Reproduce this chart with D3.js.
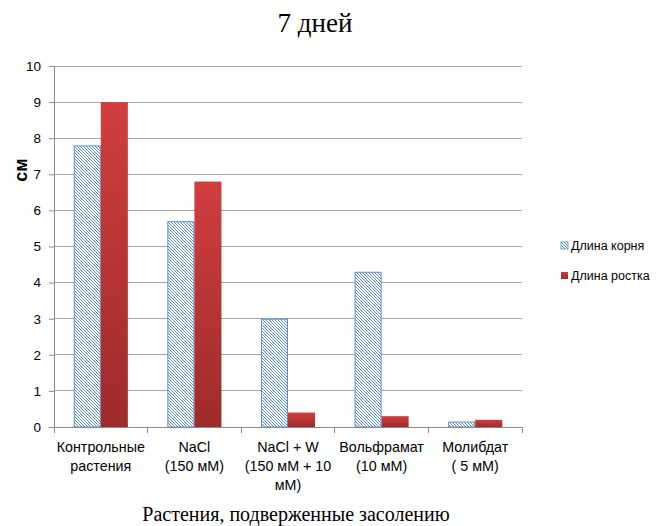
<!DOCTYPE html>
<html><head><meta charset="utf-8">
<script src="https://cdn.jsdelivr.net/npm/d3@7"></script>
<style>body{margin:0;background:#fff}</style>
</head><body>
<svg id="c" width="662" height="526"></svg>
<script>
const categories = [["Контрольные","растения"],["NaCl","(150 мМ)"],["NaCl + W","(150 мМ + 10","мМ)"],["Вольфрамат","(10 мМ)"],["Молибдат","( 5 мМ)"]];
const rootLen = [7.8, 5.7, 3.0, 4.3, 0.15];
const shootLen = [9.0, 6.8, 0.4, 0.3, 0.2];
const seriesNames = ["Длина корня", "Длина ростка"];
const yTicks = [0,1,2,3,4,5,6,7,8,9,10];
const title = "7 дней";
const xTitle = "Растения, подверженные засолению";
const yTitle = "см";

const svg = d3.select("#c");
const m = {l:54, r:140, t:66, b:99};
const W = 662, H = 526;
const x = d3.scaleBand().domain(d3.range(categories.length)).range([m.l, W - m.r]);
const y = d3.scaleLinear().domain([0,10]).range([H - m.b, m.t]);
const inner = d3.scaleBand().domain([0,1]).range([0, x.bandwidth()]).paddingInner(0).paddingOuter(0.73);

const defs = svg.append("defs");
const pat = defs.append("pattern").attr("id","hatch").attr("patternUnits","userSpaceOnUse")
  .attr("width",3).attr("height",3);
pat.append("rect").attr("width",3).attr("height",3).attr("fill","#fff");
pat.append("path").attr("d","M-1,-1 L4,4 M-1,2 L1,4 M2,-1 L4,1").attr("stroke","#5a8bd0").attr("stroke-width",1);
const grad = defs.append("linearGradient").attr("id","red").attr("x1",0).attr("y1",0).attr("x2",0).attr("y2",1);
grad.append("stop").attr("offset","0%").attr("stop-color","#d13e3e");
grad.append("stop").attr("offset","100%").attr("stop-color","#9e2b2b");

// gridlines
svg.append("g").selectAll("line").data(yTicks).join("line")
  .attr("x1", m.l).attr("x2", W - m.r).attr("y1", d=>y(d)).attr("y2", d=>y(d))
  .attr("stroke","#a6a6a6").attr("stroke-width",1).attr("shape-rendering","crispEdges");

// y axis
const ya = svg.append("g").attr("transform",`translate(${m.l},0)`)
  .call(d3.axisLeft(y).tickValues(yTicks).tickSize(5).tickPadding(8));
ya.select(".domain").attr("stroke","#8c8c8c");
ya.selectAll(".tick line").attr("stroke","#8c8c8c");
ya.selectAll("text").attr("font-family","Liberation Sans, Arial, sans-serif").attr("font-size",13.5).attr("fill","#000");

// bars
const g = svg.append("g");
g.selectAll("rect.root").data(rootLen).join("rect").attr("class","root")
  .attr("x",(d,i)=>x(i)+inner(0)+0.5).attr("width",inner.bandwidth()-1)
  .attr("y",d=>y(d)+0.5).attr("height",d=>y(0)-y(d)-0.5)
  .attr("fill","url(#hatch)").attr("stroke","#5b8ed6").attr("stroke-width",1);
g.selectAll("rect.shoot").data(shootLen).join("rect").attr("class","shoot")
  .attr("x",(d,i)=>x(i)+inner(1)).attr("width",inner.bandwidth())
  .attr("y",d=>y(d)).attr("height",d=>y(0)-y(d))
  .attr("fill","url(#red)");

// x axis
const xa = svg.append("g").attr("transform",`translate(0,${y(0)})`);
xa.append("line").attr("x1",m.l).attr("x2",W-m.r).attr("stroke","#8c8c8c").attr("shape-rendering","crispEdges");
const bounds = d3.range(categories.length+1).map(i => i < categories.length ? x(i) : x(categories.length-1)+x.bandwidth());
xa.selectAll("line.t").data(bounds).join("line").attr("class","t")
  .attr("x1",d=>d).attr("x2",d=>d).attr("y1",0).attr("y2",6).attr("stroke","#8c8c8c").attr("shape-rendering","crispEdges");
const lab = xa.selectAll("text.c").data(categories).join("text").attr("class","c")
  .attr("x",(d,i)=>x(i)+x.bandwidth()/2).attr("y",25)
  .attr("text-anchor","middle").attr("font-family","Liberation Sans, Arial, sans-serif").attr("font-size",14.3);
lab.selectAll("tspan").data(d=>d).join("tspan").attr("x",function(){return this.parentNode.getAttribute("x");})
  .attr("dy",(d,i)=>i===0?0:19).text(d=>d);

// titles
svg.append("text").attr("x",315).attr("y",32).attr("text-anchor","middle")
  .attr("font-family","Liberation Serif, Times New Roman, serif").attr("font-size",27).text(title);
svg.append("text").attr("x",296).attr("y",521).attr("text-anchor","middle")
  .attr("font-family","Liberation Serif, Times New Roman, serif").attr("font-size",20).text(xTitle);
svg.append("text").attr("transform","translate(27,170) rotate(-90)").attr("text-anchor","middle")
  .attr("font-family","Liberation Sans, Arial, sans-serif").attr("font-weight","bold").attr("font-size",18).text(yTitle);

// legend
const lg = svg.append("g").attr("transform","translate(561,242)");
const items = lg.selectAll("g").data(seriesNames).join("g").attr("transform",(d,i)=>`translate(0,${i*30})`);
items.append("rect").attr("width",7).attr("height",7)
  .attr("fill",(d,i)=>i===0?"url(#hatch)":"url(#red)")
  .attr("stroke",(d,i)=>i===0?"#5b8ed6":"none").attr("stroke-width",0.8);
items.append("text").attr("x",10).attr("y",8).attr("font-family","Liberation Sans, Arial, sans-serif").attr("font-size",12.5).text(d=>d);
</script>
</body></html>
